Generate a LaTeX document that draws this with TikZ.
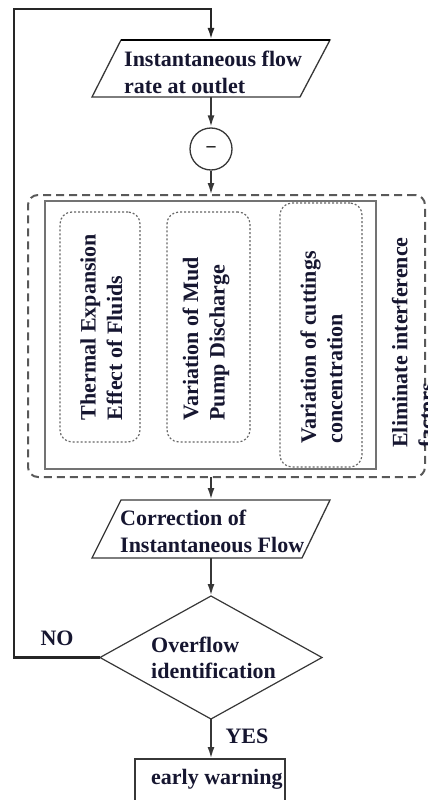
\documentclass[tikz,border=0pt]{standalone}
\usepackage{fontspec}
\setmainfont{Liberation Serif}
\usetikzlibrary{arrows.meta,shapes.geometric,calc}
\definecolor{ink}{RGB}{22,22,48}
\definecolor{ln}{RGB}{55,55,55}
\begin{document}
\begin{tikzpicture}[x=1pt,y=-1pt,
  txt/.style={font=\bfseries\fontsize{22}{26.5}\selectfont, text=ink, inner sep=0, align=left},
  conn/.style={draw=ln, line width=2.2pt, -{Latex[length=12pt,width=7pt]}},
  loopline/.style={draw=black!85, line width=2.6pt, -{Latex[length=12pt,width=7pt]}},
  anchorbox/.style={draw=none, inner sep=0, outer sep=0},
  shapeline/.style={draw=ln, line width=1.3pt},
  dotbox/.style={draw=black!60, line width=1.2pt, dash pattern=on 2pt off 2pt, rounded corners=12pt, inner sep=0, outer sep=0},
]
\useasboundingbox (0,0) rectangle (428,800);
\clip (0,0) rectangle (428,800);

% parallelogram 1
\node[anchorbox, minimum width=238pt, minimum height=57pt] (p1) at (211,68.5) {};
\draw[shapeline] ([xshift=29pt]p1.north west) -- (p1.north east) -- ([xshift=-30pt]p1.south east) -- (p1.south west) -- cycle;
\draw[black, line width=2.6pt] ([xshift=29pt]p1.north west) -- (p1.north east);
\node[txt, anchor=north west] (t1) at (124,51) {Instantaneous flow\\rate at outlet};

% circle
\node[circle, draw=ln, line width=1.3pt, minimum size=42pt, inner sep=0] (circ) at (211,149) {\fontsize{18}{20}\selectfont\bfseries --};

% outer dashed box
\node[draw=black!65, line width=2pt, dash pattern=on 8pt off 5pt, rounded corners=10pt, inner sep=0, outer sep=0, minimum width=397pt, minimum height=282pt] (outer) at (226.5,336) {};
% inner box
\node[draw=black!55, line width=2.2pt, inner sep=0, outer sep=0, minimum width=331pt, minimum height=268pt] (inner) at (210.5,335) {};

% dotted boxes
\node[dotbox, minimum width=80pt, minimum height=230pt] (d1) at (100,327) {};
\node[dotbox, minimum width=83pt, minimum height=230pt] (d2) at (208.5,327) {};
\node[dotbox, minimum width=82pt, minimum height=264pt] (d3) at (321,335) {};

\node[txt, rotate=90] (r1) at (101.5,327) {Thermal Expansion\\Effect of Fluids};
\node[txt, rotate=90] (r2) at (206,339) {Variation of Mud\\Pump Discharge};
\node[txt, rotate=90] (r3) at (321.5,347.5) {Variation of cuttings\\concentration};
\node[txt, rotate=90] (r4) at (413,342.5) {Eliminate interference\\factors};

% parallelogram 2
\node[anchorbox, minimum width=238pt, minimum height=58pt] (p2) at (211,529) {};
\draw[shapeline] ([xshift=29pt]p2.north west) -- (p2.north east) -- ([xshift=-28pt]p2.south east) -- (p2.south west) -- cycle;
\node[txt, anchor=north west] (t2) at (120,510) {Correction of\\Instantaneous Flow};

% diamond
\node[diamond, draw=ln, line width=1.2pt, minimum width=222pt, minimum height=123pt, inner sep=0, outer sep=0, aspect=1.8] (dia) at (211,657.5) {};
\node[txt, anchor=north west] (t3) at (151,636.5) {Overflow\\identification};

% early warning box
\node[draw=ln, line width=1.3pt, minimum width=150pt, minimum height=50pt, inner sep=0, outer sep=0] (ew) at (210,784) {};
\node[txt, anchor=west] (t4) at (151,779) {early warning};

% labels
\node[txt] (no) at (57,638) {NO};
\node[txt] (yes) at (247,736) {YES};

% connectors
\coordinate (lb) at (14,657.5);
\coordinate (lt) at (14,9);
\draw[loopline] (dia.west) -- (lb) -- (lt) -| (p1.north);
\draw[conn] (p1.south) -- (circ.north);
\draw[conn] (circ.south) -- (outer.north -| circ.south);
\draw[conn] (outer.south -| p2.north) -- (p2.north);
\draw[conn] (p2.south) -- (dia.north);
\draw[conn] (dia.south) -- (ew.north -| dia.south);
\end{tikzpicture}
\end{document}
